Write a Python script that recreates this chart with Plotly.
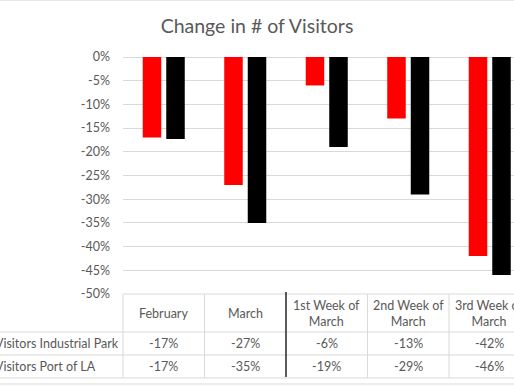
import plotly.graph_objects as go

categories = ["February", "March", "1st Week of March", "2nd Week of March", "3rd Week of March"]
header_labels = ["February", "March", "1st Week of<br>March", "2nd Week of<br>March", "3rd Week of<br>March"]
series_names = ["Visitors Industrial Park", "Visitors Port of LA"]
industrial_park = [-17, -27, -6, -13, -42]
port_of_la = [-17.3, -35, -19, -29, -46]
colors = ["#FF0000", "#000000"]
y_ticks = list(range(0, -51, -5))

W, H = 514, 386
L, R, T, B = 123, 0, 57, 92
PW, PH = W - L - R, H - T - B
CAT_W = 81.5  # px per category
x_range = [-0.5, -0.5 + PW / CAT_W]

def xp(px):
    return (px - L) / PW

def yp(py):
    return (H - B - py) / PH

def cat_px(v):
    return L + (v - x_range[0]) * CAT_W

FONT = "Lato"
GRAY = "#595959"
LINE = "#d9d9d9"

fig = go.Figure()
for name, vals, col in zip(series_names, [industrial_park, port_of_la], colors):
    fig.add_trace(go.Bar(x=list(range(len(categories))), y=vals, name=name,
                         marker=dict(color=col, line=dict(width=0))))

shapes = []
annotations = []
# table horizontal lines
shapes.append(dict(type="line", xref="paper", yref="paper", x0=xp(L), x1=xp(W + 5), y0=yp(294), y1=yp(294), line=dict(color=LINE, width=1)))
for py in [332, 355, 378]:
    shapes.append(dict(type="line", xref="paper", yref="paper", x0=xp(-5), x1=xp(W + 5), y0=yp(py), y1=yp(py), line=dict(color=LINE, width=1)))
# vertical lines
for k in range(len(categories) + 1):
    px = cat_px(k - 0.5)
    if px > W:
        continue
    dark = (k == 2)
    shapes.append(dict(type="line", xref="paper", yref="paper", x0=xp(px), x1=xp(px),
                       y0=yp(292 if dark else 294), y1=yp(377 if dark else 378),
                       line=dict(color="#262626" if dark else LINE, width=1.5 if dark else 1)))
# chart border lines (top/bottom)
shapes.append(dict(type="line", xref="paper", yref="paper", x0=xp(-5), x1=xp(W + 5), y0=yp(0.5), y1=yp(0.5), line=dict(color="#e6e6e6", width=1)))
shapes.append(dict(type="line", xref="paper", yref="paper", x0=xp(-5), x1=xp(W + 5), y0=yp(384), y1=yp(384), line=dict(color=LINE, width=1)))

# header labels
for i, lab in enumerate(header_labels):
    annotations.append(dict(x=i, xref="x", y=yp(313), yref="paper", text=lab, showarrow=False,
                            font=dict(family=FONT, size=12.5, color=GRAY), xanchor="center", yanchor="middle", align="center"))
# values
for r, (vals, py) in enumerate(zip([industrial_park, port_of_la], [343.5, 366.5])):
    for i, v in enumerate(vals):
        annotations.append(dict(x=i, xref="x", y=yp(py), yref="paper", text=f"{round(v)}%", showarrow=False,
                                font=dict(family=FONT, size=12.5, color=GRAY), xanchor="center", yanchor="middle"))
    annotations.append(dict(x=xp(-7), xref="paper", y=yp(py), yref="paper", text=series_names[r], showarrow=False,
                            font=dict(family=FONT, size=12.5, color=GRAY), xanchor="left", yanchor="middle"))

fig.update_layout(
    width=W, height=H,
    margin=dict(l=L, r=R, t=T, b=B),
    paper_bgcolor="white", plot_bgcolor="white",
    title=dict(text="Change in # of Visitors", x=0.5, xanchor="center", y=1 - 26 / H, yanchor="middle",
               font=dict(family=FONT, size=19.5, color=GRAY)),
    showlegend=False,
    barmode="group", bargap=0.423, bargroupgap=0.213,
    xaxis=dict(range=x_range, showticklabels=False, showgrid=False, zeroline=False, showline=False, ticks=""),
    yaxis=dict(range=[-50, 0], tickvals=y_ticks, ticktext=[f"{v}%" for v in y_ticks],
               showgrid=True, gridcolor=LINE, gridwidth=1, zeroline=True, zerolinecolor=LINE, zerolinewidth=1,
               showline=False, ticks="", ticklabelstandoff=12,
               tickfont=dict(family=FONT, size=12.5, color=GRAY)),
    shapes=shapes, annotations=annotations,
)
fig.write_html("out.html", config={"displayModeBar": False},
               post_script="document.body.style.margin='0';document.body.style.overflow='hidden';")
